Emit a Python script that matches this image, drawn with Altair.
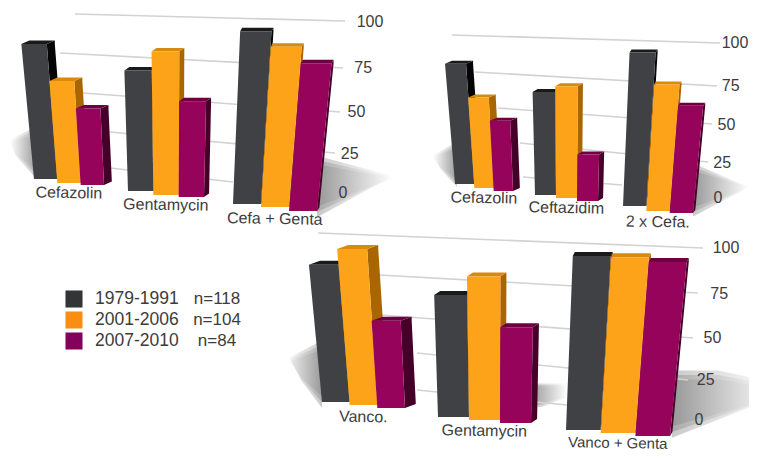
import altair as alt

SERIES = ["1979-1991", "2001-2006", "2007-2010"]
COUNTS = ["n=118", "n=104", "n=84"]
FRONT = ["#3f4144", "#fda319", "#95045a"]
TOP = ["#1a1a1a", "#d88a0e", "#6c0040"]
SIDE = ["#050505", "#a86500", "#45002a"]
SWATCH = ["#333436", "#f98e12", "#84005a"]
TICKS = [0, 25, 50, 75, 100]

# ---- values, panel by panel
P1_NAMES = ["Cefazolin", "Gentamycin", "Cefa + Genta"]
P1_VALUES = [[90, 68, 51], [73, 87, 58], [97, 90, 83]]
P2_NAMES = ["Cefazolin", "Ceftazidim", "2 x Cefa."]
P2_VALUES = [[89, 67, 52], [71, 77, 32], [96, 79, 67]]
P3_NAMES = ["Vanco.", "Gentamycin", "Vanco + Genta"]
P3_VALUES = [[88, 100, 56], [74, 87, 58], [94, 95, 94]]

# ---- perspective layout: scale ranges in reference pixels
PANELS = [
    dict(names=P1_NAMES, values=P1_VALUES, vx=172, k=0.00068,
         spans=[(34, 104), (128, 204), (233, 317)], heights=[150, 165, 178],
         floors=[[179, 183, 185], [191, 195, 197], [204, 207, 211]],
         depth=[8, 5, 2], rise=[3.5, 3.5, 3.5], label_dy=[10, 10, 12], label_size=[16, 16, 16],
         wall_y=[193, 154, 112, 68, 22], tick_x=(343, 370),
         grid=[(110, 168, 233, 182), (110, 132, 335, 153), (83, 93, 340, 112),
               (60, 53, 343, 68), (75, 14, 345, 21)]),
    dict(names=P2_NAMES, values=P2_VALUES, vx=566, k=0.00075,
         spans=[(455, 513), (535, 598), (623, 693)], heights=[135, 145, 160],
         floors=[[184, 188, 191], [195, 198, 201], [206, 211, 213]],
         depth=[7, 5, 2], rise=[3, 3, 3], label_dy=[10, 10, 11], label_size=[16, 16, 16],
         wall_y=[198, 163, 125, 86, 43], tick_x=(718, 735),
         grid=[(523, 177, 622, 185), (520, 143, 708, 162), (498, 108, 712, 124),
               (475, 72, 717, 86), (452, 35, 720, 43)]),
    dict(names=P3_NAMES, values=P3_VALUES, vx=495, k=0.00055,
         spans=[(322, 405), (438, 531), (566, 670)], heights=[156, 165, 185],
         floors=[[402, 405, 408], [417, 420, 423], [430, 433, 436]],
         depth=[11, 6, 2], rise=[4, 4, 4], label_dy=[12, 11, 10], label_size=[16, 16, 15],
         wall_y=[420, 380, 338, 294, 248], tick_x=(699, 726),
         grid=[(417, 390, 567, 405), (417, 353, 688, 380), (380, 315, 693, 338),
               (380, 275, 698, 293), (318, 233, 703, 248)]),
]

# ---- soft floor shadows: pixel box, outline rows (v, left, right), dark side, far colour
SHADOWS = [
    ((10, 37, 130, 175), [(0, 1, 1), (0.25, 0, 1), (0.55, 0.2, 1), (1, 1, 1)], "left", "#ffffff"),
    ((317, 393, 160, 212), [(0, 0, 0), (0.33, 0, 1), (1, 0, 0)], "right", "#ffffff"),
    ((433, 457, 145, 183), [(0, 1, 1), (0.3, 0, 1), (0.6, 0.3, 1), (1, 1, 1)], "left", "#ffffff"),
    ((693, 749, 167, 212), [(0, 0, 0), (0.45, 0, 1), (1, 0, 0)], "right", "#ffffff"),
    ((290, 322, 345, 402), [(0, 1, 1), (0.25, 0, 1), (0.6, 0.35, 1), (1, 1, 1)], "left", "#e8e8e8"),
    ((672, 749, 375, 432), [(0, 0, 0.6), (0.1, 0, 1), (0.55, 0, 1), (1, 0, 0)], "right", "#dddddd"),
    ((531, 567, 385, 405), [(0, 0, 1), (0.6, 0, 1), (1, 0, 0.3)], "right", "#ffffff"),
]

M = 8  # page margin


def xs(a, b):
    return alt.Scale(domain=[0, 3], range=[a - M, b - M], nice=False, zero=False)


def ys(floor, h):
    return alt.Scale(domain=[0, 100], range=[floor - M, floor - h - M], nice=False, zero=False)


def area(rows, color, xscale, yscale, opacity=1):
    return (
        alt.Chart(alt.Data(values=rows))
        .mark_area(orient="horizontal", color=color, interpolate="linear", opacity=opacity)
        .encode(
            y=alt.Y("level:Q", axis=None, scale=yscale),
            x=alt.X("a:Q", axis=None, scale=xscale, stack=None),
            x2="b:Q",
        )
    )


layers = []

# shadows: three nested, translucent copies give a soft edge
for (x0, x1, y0, y1), outline, side, far in SHADOWS:
    near = "#7f7f7f"
    stops = [{"offset": 0, "color": far}, {"offset": 1, "color": near}]
    if side == "right":
        stops = [{"offset": 0, "color": near}, {"offset": 1, "color": far}]
    grad = {"gradient": "linear", "x1": 0, "x2": 1, "y1": 0, "y2": 0, "stops": stops}
    for f in (1.18, 1.0, 0.82):
        rows = [{"level": 0.45 + (v - 0.45) * f, "a": a, "b": b} for v, a, b in outline]
        layers.append(area(
            rows, grad,
            alt.Scale(domain=[0, 1], range=[x0 - M, x1 - M], nice=False, zero=False),
            alt.Scale(domain=[0, 1], range=[y0 - M, y1 - M], nice=False, zero=False),
            opacity=0.42,
        ))

# grid lines and tick labels
for p in PANELS:
    for (xa, ya, xb, yb) in p["grid"]:
        layers.append(
            alt.Chart(alt.Data(values=[{"e": 0}, {"e": 1}]))
            .mark_line(color="#d2d2d2", strokeWidth=1.6)
            .encode(
                x=alt.X("e:Q", axis=None, scale=alt.Scale(domain=[0, 1], range=[xa - M, xb - M], nice=False, zero=False)),
                y=alt.Y("e:Q", axis=None, scale=alt.Scale(domain=[0, 1], range=[ya - M, yb - M], nice=False, zero=False)),
            )
        )
    layers.append(
        alt.Chart(alt.Data(values=[{"t": t} for t in TICKS]))
        .mark_text(font="Liberation Sans", fontSize=16, color="#3c3c3c", align="center", baseline="middle")
        .encode(
            x=alt.X("t:Q", axis=None, scale=alt.Scale(domain=[0, 100], range=[p["tick_x"][0] - M, p["tick_x"][1] - M], nice=False, zero=False)),
            y=alt.Y("t:Q", axis=None, scale=alt.Scale(domain=TICKS, range=[v - M for v in p["wall_y"]], nice=False, zero=False)),
            text="t:Q",
        )
    )

# bars
for p in PANELS:
    for g, name in enumerate(p["names"]):
        a, b = p["spans"][g]
        slot_w = (b - a) / 3
        H = p["heights"][g]
        d = p["depth"][g] / slot_w
        dv = p["rise"][g] / H * 100
        sx = xs(a, b)

        def at(slot, level):
            base = a + slot * slot_w
            return slot + (base - p["vx"]) * p["k"] * (H * level / 100) / slot_w

        for s in range(3):
            v = p["values"][g][s]
            sy = ys(p["floors"][g][s], H)
            front = [{"level": lv, "a": at(s, lv), "b": at(s + 1, lv)} for lv in (0, v)]
            top = [
                {"level": v, "a": at(s, v), "b": at(s + 1, v)},
                {"level": v + dv, "a": at(s, v) + d, "b": at(s + 1, v) + d},
            ]
            side = [
                {"level": 0, "a": at(s + 1, 0), "b": at(s + 1, 0)},
                {"level": dv, "a": at(s + 1, dv), "b": at(s + 1, dv) + d},
                {"level": v, "a": at(s + 1, v), "b": at(s + 1, v) + d},
                {"level": v + dv, "a": at(s + 1, v) + d, "b": at(s + 1, v) + d},
            ]
            layers.append(area(side, SIDE[s], sx, sy))
            layers.append(area(top, TOP[s], sx, sy))
            layers.append(area(front, FRONT[s], sx, sy))
        layers.append(
            alt.Chart(alt.Data(values=[{"slot": 1.5, "level": 0, "name": name}]))
            .mark_text(font="Liberation Sans", fontSize=p["label_size"][g], color="#3c3c3c", align="center",
                       baseline="middle", dy=p["label_dy"][g], angle=1)
            .encode(
                x=alt.X("slot:Q", axis=None, scale=sx),
                y=alt.Y("level:Q", axis=None, scale=ys(p["floors"][g][1], H)),
                text="name:N",
            )
        )

# legend
legend_rows = [{"s": s, "n": n, "c": c} for s, n, c in zip(SERIES, COUNTS, SWATCH)]
legend_y = alt.Y("s:N", axis=None, scale=alt.Scale(domain=SERIES, range=[299 - M, 341 - M], padding=0))
layers.append(
    alt.Chart(alt.Data(values=legend_rows))
    .mark_square(size=290, opacity=1)
    .encode(x=alt.value(74 - M), y=legend_y, color=alt.Color("c:N", scale=None, legend=None))
)
layers.append(
    alt.Chart(alt.Data(values=legend_rows))
    .mark_text(font="Liberation Sans", fontSize=17.5, color="#3c3c3c", align="left", baseline="middle")
    .encode(x=alt.value(95 - M), y=legend_y, text="s:N")
)
layers.append(
    alt.Chart(alt.Data(values=legend_rows))
    .mark_text(font="Liberation Sans", fontSize=17, color="#3c3c3c", align="center", baseline="middle")
    .encode(x=alt.value(217 - M), y=legend_y, text="n:N")
)

chart = (
    alt.layer(*layers)
    .resolve_scale(x="independent", y="independent")
    .properties(width=741, height=443, padding=0, autosize="none", background="white")
    .configure_view(stroke=None)
)

chart.save("out.html", embed_options={"renderer": "svg", "actions": False})
